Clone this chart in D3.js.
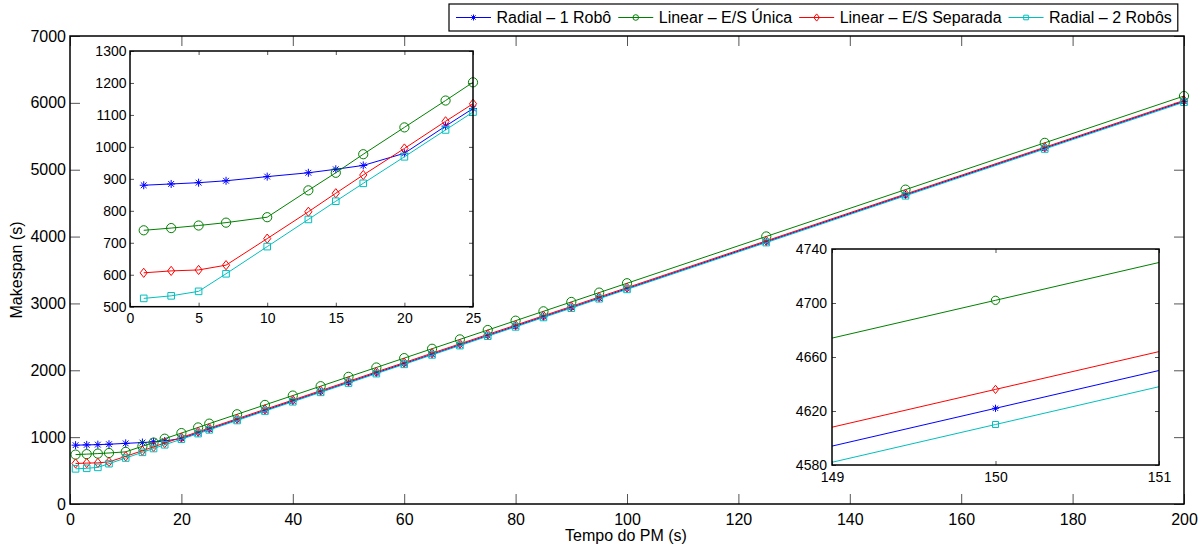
<!DOCTYPE html>
<html>
<head>
<meta charset="utf-8">
<script src="https://d3js.org/d3.v7.min.js"></script>
<style>
  body { margin: 0; background: #fff; }
  svg { display: block; font-family: "Liberation Sans", Arial, Helvetica, sans-serif; }
  .tick line { stroke: #555; }
  .domain { display: none; }
  .frame { fill: none; stroke: #000; stroke-width: 1.5px; }
</style>
</head>
<body>
<div id="chart"></div>
<script>
// Tempo do PM (s)
const tempo = [1, 3, 5, 7, 10, 13, 15, 17, 20, 23, 25, 30, 35, 40, 45, 50, 55, 60, 65, 70,
               75, 80, 85, 90, 95, 100, 125, 150, 175, 200];

// Makespan (s) for each configuration
const radial1 = [880, 884, 888, 894, 907, 919, 930, 942, 980, 1065, 1120, 1260, 1400, 1541, 1680,
                 1820, 1961, 2100, 2240, 2381, 2520, 2660, 2801, 2940, 3080, 3221, 3922, 4622, 5322, 6022];
const linearUnica = [739, 746, 754, 763, 780, 864, 919, 977, 1061, 1145, 1202, 1342, 1482, 1622, 1762,
                     1902, 2042, 2182, 2322, 2462, 2602, 2742, 2882, 3022, 3162, 3302, 4002, 4702, 5402, 6102];
const linearSeparada = [606, 612, 615, 630, 713, 797, 855, 912, 995, 1080, 1135, 1275, 1416, 1555, 1696,
                        1835, 1976, 2115, 2256, 2395, 2536, 2675, 2816, 2955, 3096, 3236, 3936, 4636, 5336, 6036];
const radial2 = [526, 534, 548, 603, 688, 773, 830, 886, 969, 1053, 1109, 1249, 1390, 1529, 1670,
                 1809, 1950, 2089, 2230, 2369, 2510, 2649, 2790, 2929, 3070, 3210, 3910, 4610, 5310, 6010];

const seriesNames = ["Radial \u2013 1 Robô", "Linear \u2013 E/S Única", "Linear \u2013 E/S Separada", "Radial \u2013 2 Robôs"];
const seriesColors = ["#0000ff", "#008000", "#ff0000", "#00bfbf"];
const seriesMarkers = ["star", "circle", "diamond", "square"];

const mainXTicks = [0, 20, 40, 60, 80, 100, 120, 140, 160, 180, 200];
const mainYTicks = [0, 1000, 2000, 3000, 4000, 5000, 6000, 7000];
const zoom1XTicks = [0, 5, 10, 15, 20, 25];
const zoom1YTicks = [500, 600, 700, 800, 900, 1000, 1100, 1200, 1300];
const zoom2XTicks = [149, 150, 151];
const zoom2YTicks = [4580, 4620, 4660, 4700, 4740];

const series = [radial1, linearUnica, linearSeparada, radial2].map((vals, i) => ({
  name: seriesNames[i],
  color: seriesColors[i],
  marker: seriesMarkers[i],
  points: tempo.map((t, j) => ({ x: t, y: vals[j] }))
}));

const W = 1203, H = 547;
const svg = d3.select("#chart").append("svg").attr("width", W).attr("height", H);

// marker shapes, MATLAB style
function markerPath(type, s) {
  if (type === "circle") return `M${s},0A${s},${s} 0 1 1 ${-s},0A${s},${s} 0 1 1 ${s},0Z`;
  if (type === "square") return `M${-s},${-s}H${s}V${s}H${-s}Z`;
  if (type === "diamond") { const w = s * 0.78; return `M0,${-s}L${w},0L0,${s}L${-w},0Z`; }
  const a = s * 0.72;
  return `M${-s},0H${s}M0,${-s}V${s}M${-a},${-a}L${a},${a}M${-a},${a}L${a},${-a}`;
}
const markerSize = { star: 4, circle: 4.6, diamond: 4.6, square: 3.3 };
const fmt = d3.format("d");

let clipId = 0;
function panel(o) {
  const g = svg.append("g");
  const x = d3.scaleLinear().domain(o.xDomain).range([o.left, o.right]);
  const y = d3.scaleLinear().domain(o.yDomain).range([o.bottom, o.top]);
  const w = o.right - o.left, h = o.bottom - o.top;

  if (o.background) g.append("rect").attr("x", o.left).attr("y", o.top)
    .attr("width", w).attr("height", h).attr("fill", "#fff");

  const id = "clip" + (clipId++);
  g.append("clipPath").attr("id", id).append("rect")
    .attr("x", o.left).attr("y", o.top).attr("width", w).attr("height", h);

  const fs = o.fontSize + "px";
  const bottomAxis = g.append("g").attr("transform", `translate(0,${o.bottom})`)
    .call(d3.axisBottom(x).tickValues(o.xTicks).tickFormat(fmt)
      .tickSizeInner(-o.tick).tickSizeOuter(0).tickPadding(o.xPad));
  bottomAxis.selectAll("text").attr("fill", "#000").style("font-size", fs);
  g.append("g").attr("transform", `translate(0,${o.top})`)
    .call(d3.axisTop(x).tickValues(o.xTicks).tickSizeInner(-o.tick).tickSizeOuter(0).tickFormat(""));
  const leftAxis = g.append("g").attr("transform", `translate(${o.left},0)`)
    .call(d3.axisLeft(y).tickValues(o.yTicks).tickFormat(fmt)
      .tickSizeInner(-o.tick).tickSizeOuter(0).tickPadding(o.yPad));
  leftAxis.selectAll("text").attr("fill", "#000").style("font-size", fs);
  g.append("g").attr("transform", `translate(${o.right},0)`)
    .call(d3.axisRight(y).tickValues(o.yTicks).tickSizeInner(-o.tick).tickSizeOuter(0).tickFormat(""));
  g.selectAll(".tick line").attr("stroke", "#555");

  const line = d3.line().x(d => x(d.x)).y(d => y(d.y));
  const data = g.append("g");
  series.forEach(s => {
    data.append("path").attr("d", line(s.points)).attr("fill", "none")
      .attr("stroke", s.color).attr("stroke-width", 1).attr("clip-path", `url(#${id})`);
    const pts = s.points.filter(p => p.x >= o.xDomain[0] && p.x <= o.xDomain[1] &&
                                     p.y >= o.yDomain[0] && p.y <= o.yDomain[1]);
    data.selectAll(null).data(pts).join("path")
      .attr("transform", p => `translate(${x(p.x)},${y(p.y)})`)
      .attr("d", markerPath(s.marker, markerSize[s.marker] * o.markerScale))
      .attr("fill", "none").attr("stroke", s.color).attr("stroke-width", 1);
  });

  g.append("rect").attr("class", "frame").attr("x", o.left).attr("y", o.top)
    .attr("width", w).attr("height", h).attr("stroke-width", o.frame);
  return { g, x, y };
}

// main axes
panel({
  left: 70, right: 1184, top: 36, bottom: 504,
  xDomain: [0, 200], yDomain: [0, 7000], xTicks: mainXTicks, yTicks: mainYTicks,
  tick: 10, fontSize: 16, xPad: 9.5, yPad: 4, markerScale: 1, frame: 1.6
});

// inset: start of the curves
panel({
  left: 130, right: 473, top: 51, bottom: 306.7, background: true,
  xDomain: [0, 25], yDomain: [500, 1300], xTicks: zoom1XTicks, yTicks: zoom1YTicks,
  tick: 4, fontSize: 14, xPad: 6.7, yPad: 3.5, markerScale: 1, frame: 1.3
});

// inset: detail around 150 s
panel({
  left: 832, right: 1159, top: 249, bottom: 465, background: true,
  xDomain: [149, 151], yDomain: [4580, 4740], xTicks: zoom2XTicks, yTicks: zoom2YTicks,
  tick: 4, fontSize: 14, xPad: 7.4, yPad: 5, markerScale: 0.9, frame: 1.3
});

// axis titles
svg.append("text").attr("x", 626).attr("y", 541).attr("text-anchor", "middle")
  .style("font-size", "16px").text("Tempo do PM (s)");
svg.append("text").attr("transform", "translate(21.5,270) rotate(-90)").attr("text-anchor", "middle")
  .style("font-size", "16px").text("Makespan (s)");

// legend
const legend = svg.append("g");
const legendBox = legend.append("rect").attr("x", 449).attr("y", 4).attr("height", 27)
  .attr("fill", "#fff").attr("stroke", "#000").attr("stroke-width", 1.2);
let lx = 456;
const legendMarker = { star: 3, circle: 2.8, diamond: 3.6, square: 2.3 };
series.forEach(s => {
  legend.append("line").attr("x1", lx).attr("x2", lx + 35).attr("y1", 17.5).attr("y2", 17.5)
    .attr("stroke", s.color).attr("stroke-width", 1);
  legend.append("path").attr("transform", `translate(${lx + 17.5},17.5)`)
    .attr("d", markerPath(s.marker, legendMarker[s.marker]))
    .attr("fill", "none").attr("stroke", s.color).attr("stroke-width", 1);
  const t = legend.append("text").attr("x", lx + 40.5).attr("y", 23).style("font-size", "16px").text(s.name);
  lx += 40.5 + t.node().getComputedTextLength() + 7;
});
legendBox.attr("width", lx - 7 + 6 - 449);
</script>
</body>
</html>
